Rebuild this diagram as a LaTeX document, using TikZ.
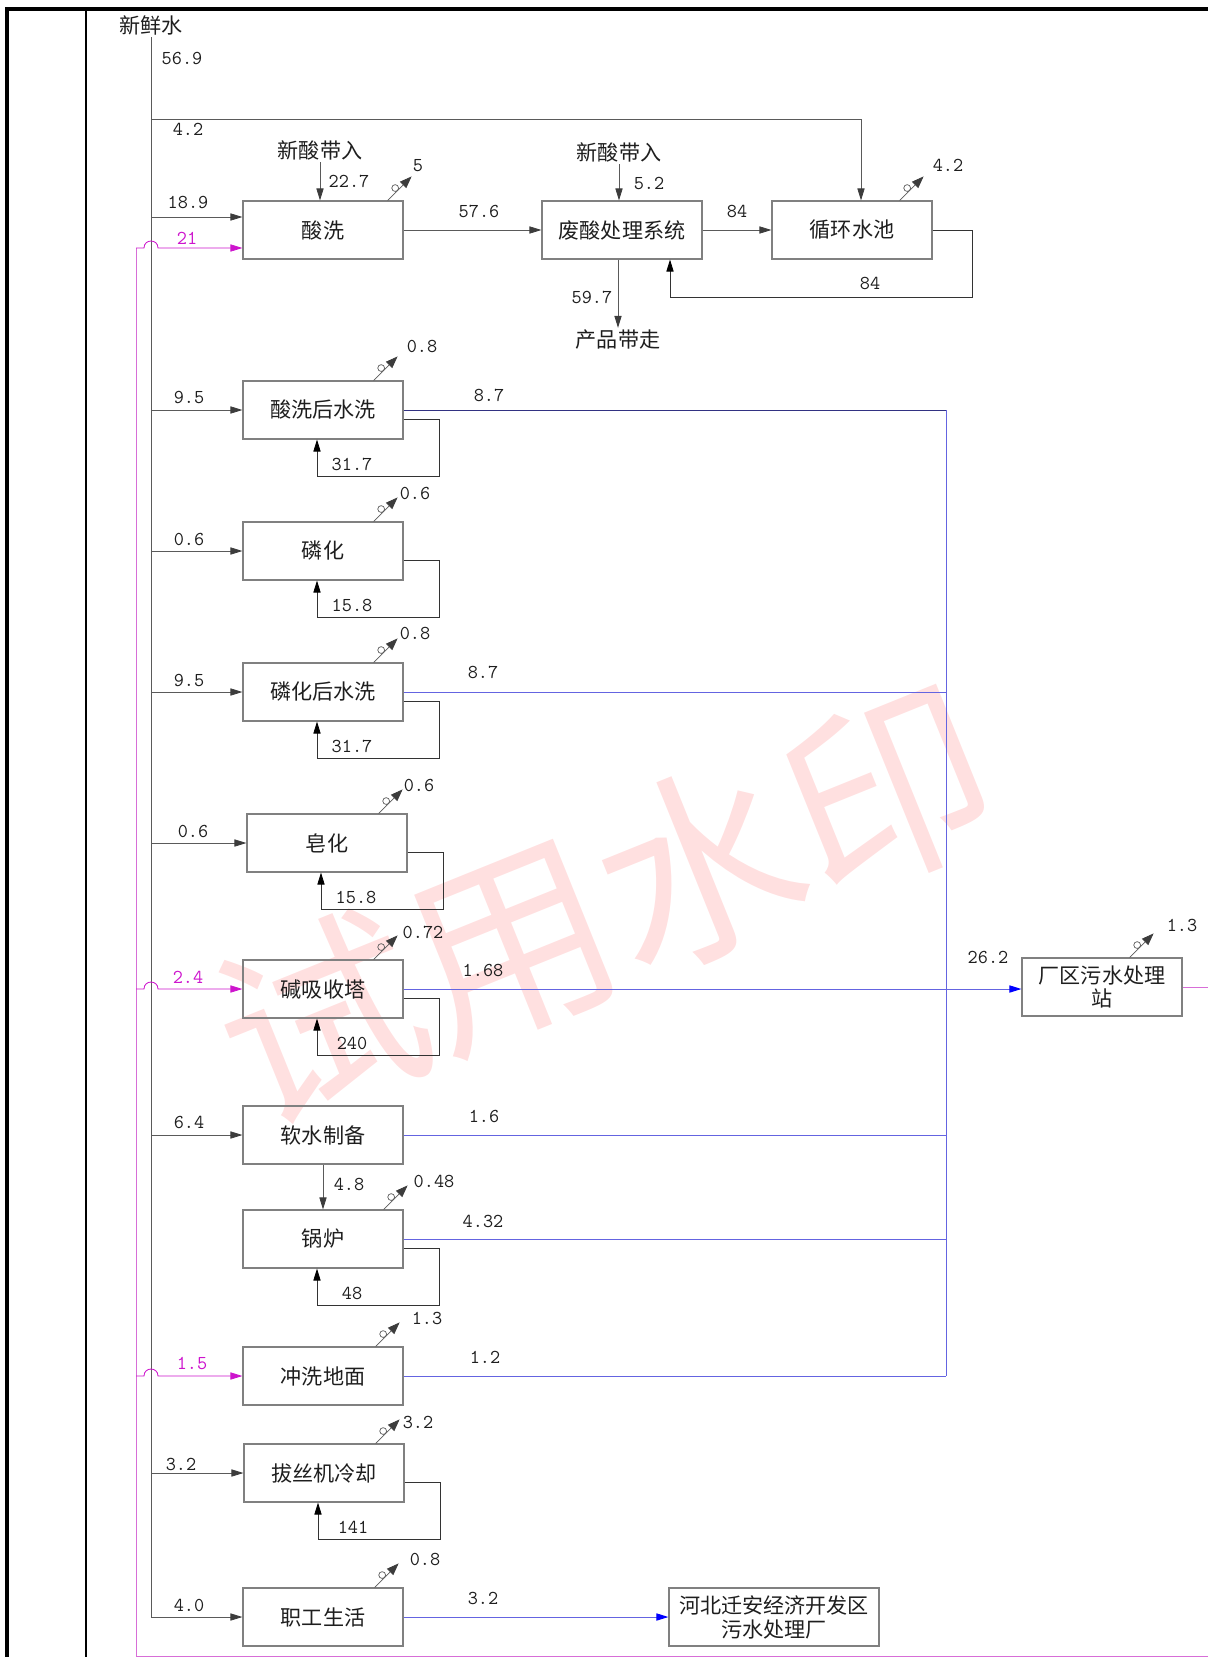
\documentclass[tikz,border=0pt]{standalone}
\usepackage{fontspec}
\newfontfamily\cjk{Noto Sans CJK SC}
\usepackage{tikz}
\usetikzlibrary{arrows.meta, positioning}
\definecolor{boxgray}{RGB}{128,128,128}
\definecolor{lngray}{RGB}{90,90,90}
\definecolor{tipgray}{RGB}{60,60,60}
\definecolor{txtblack}{RGB}{30,30,30}
\definecolor{wblue}{RGB}{100,100,225}
\definecolor{wnavy}{RGB}{50,50,130}
\definecolor{wmag}{RGB}{205,20,205}
\definecolor{wmagl}{RGB}{215,110,215}
\tikzset{
	blk/.style={shape=rectangle, draw=boxgray, line width=0.8pt, minimum width=4cm, minimum height=1.45cm, inner sep=1pt, align=center, font=\cjk\fontsize{15}{17}\selectfont, text=txtblack},
	lbl/.style={font=\cjk\fontsize{15}{17}\selectfont, text=txtblack, inner sep=1.5pt},
	num/.style={font=\ttfamily\fontsize{14}{16}\selectfont, text=txtblack, inner sep=0pt},
	mnum/.style={num, text=wmag},
	flw/.style={draw=lngray, line width=0.6pt, -{Triangle[length=0.3cm, width=0.18cm, color=tipgray]}},
	lp/.style={draw=black!80, line width=0.6pt, -{Triangle[length=0.3cm, width=0.18cm, color=black]}},
	evln/.style={draw=lngray, line width=0.5pt, -{Triangle[length=0.3cm, width=0.22cm, color=tipgray]}},
	bln/.style={draw=wblue, line width=0.7pt},
	bnav/.style={draw=wnavy, line width=0.7pt},
	barr/.style={bln, -{Triangle[length=0.3cm, width=0.18cm, color=blue]}},
	mln/.style={draw=wmagl, line width=0.7pt},
	marr/.style={draw=wmag, line width=0.6pt, -{Triangle[length=0.3cm, width=0.18cm, color=wmag]}},
	wmark/.style={rotate=22, text=red, opacity=0.12, font=\cjk\fontsize{145}{145}\selectfont, inner sep=0pt},
	evap/.pic={
		\draw[evln] (0,0) -- (24,-24);
		\draw[lngray, line width=0.5pt] (7.6,-12.4) circle[radius=0.085cm];
	}
}

\begin{document}
\begin{tikzpicture}[x=0.025cm, y=-0.025cm]
	% Frame, nodes and flows:
	\useasboundingbox (0,0) rectangle (1208,1657);
	\node[wmark] (N20) at (605,905) {试用水印};
	\draw[line width=2.2pt] (7,1670) -- (7,9) -- (1220,9);
	\draw[line width=0.9pt] (86,9) -- (86,1670);
	\node[lbl] (N1) at (151,25) {新鲜水};
	\coordinate (T1) at (151,44);
	\node[num] at (182,58) {56.9};
	\node[blk] (N2) at (323,230) {酸洗};
	\node[lbl] (N3) at (320,150) {新酸带入};
	\node[blk] (N4) at (622,230) {废酸处理系统};
	\node[lbl] (N5) at (619,152) {新酸带入};
	\node[blk] (N6) at (852,230) {循环水池};
	\node[lbl] (N7) at (618,340) {产品带走};
	\node[blk] (N8) at (323,410) {酸洗后水洗};
	\node[blk] (N9) at (323,551) {磷化};
	\node[blk] (N10) at (323,692) {磷化后水洗};
	\node[blk] (N11) at (327,843) {皂化};
	\node[blk] (N12) at (323,989) {碱吸收塔};
	\node[blk] (N13) at (323,1135) {软水制备};
	\node[blk] (N14) at (323,1239) {锅炉};
	\node[blk] (N15) at (323,1376) {冲洗地面};
	\node[blk] (N16) at (324,1473) {拔丝机冷却};
	\node[blk] (N17) at (323,1617) {职工生活};
	\node[blk] (N18) at (1102,987) {厂区污水处理\\站};
	\node[blk, minimum width=5.25cm] (N19) at (774,1617) {河北迁安经济开发区\\污水处理厂};
	\coordinate (C1) at (946,407);
	\coordinate (C3) at (861,119);
	\coordinate (C4) at (972,297);
	\coordinate (M1) at (136,248);
	\coordinate (M2) at (1230,1656);
	\draw[lngray, line width=0.6pt] (N1.south) -- (T1);
	\draw[flw] (T1) |- (N17.west);
	\draw[flw] (T1 |- C3) -- (C3) -- (C3 |- N6.north);
	\node[num] at (188,129) {4.2};
	\draw[flw] (T1 |- 0,217) -- (N2.west |- 0,217);
	\node[num] at (188,202) {18.9};
	\draw[flw] (N3.south) -- (N3.south |- N2.north);
	\node[num] at (349,181) {22.7};
	\draw[flw] (N2.east) -- (N4.west);
	\node[num] at (479,211) {57.6};
	\draw[flw] (N5.south) -- (N5.south |- N4.north);
	\node[num] at (649,183) {5.2};
	\draw[flw] (N4.east) -- (N6.west);
	\node[num] at (737,211) {84};
	\draw[lp] (N6.east) -| (C4) -| ([xshift=1.2cm]N4.south);
	\node[num] at (870,283) {84};
	\draw[flw] (N4.south -| N7.north) -- (N7.north);
	\node[num] at (592,297) {59.7};
	\draw[flw] (T1 |- N8.west) -- (N8.west);
	\node[num] at (189,397) {9.5};
	\draw[flw] (T1 |- N9.west) -- (N9.west);
	\node[num] at (189,539) {0.6};
	\draw[flw] (T1 |- N10.west) -- (N10.west);
	\node[num] at (189,680) {9.5};
	\draw[flw] (T1 |- N11.west) -- (N11.west);
	\node[num] at (193,831) {0.6};
	\draw[flw] (T1 |- N13.west) -- (N13.west);
	\node[num] at (189,1122) {6.4};
	\draw[flw] (N13.south) -- (N14.north);
	\node[num] at (349,1184) {4.8};
	\draw[flw] (T1 |- N16.west) -- (N16.west);
	\node[num] at (181,1464) {3.2};
	\node[num] at (189,1605) {4.0};
	\draw[mln] (N18.east) -| (M2) -| (M1);
	\draw[marr] (M1) -- (144,248) .. controls (144,238.7) and (158,238.7) .. (158,248) -- (N2.west |- M1);
	\node[mnum] at (187,238) {21};
	\draw[marr] (M1 |- N12.west) -- (144,989) .. controls (144,979.7) and (158,979.7) .. (158,989) -- (N12.west);
	\node[mnum] at (188,977) {2.4};
	\draw[marr] (M1 |- N15.west) -- (144,1376) .. controls (144,1366.7) and (158,1366.7) .. (158,1376) -- (N15.west);
	\node[mnum] at (192,1363) {1.5};
	\draw[bnav] (N8.east) -- (N8.east -| C1);
	\node[num] at (489,395) {8.7};
	\draw[bln] (N10.east) -- (N10.east -| C1);
	\node[num] at (483,672) {8.7};
	\draw[barr] (N12.east) -- (N12.east -| N18.west);
	\node[num] at (483,970) {1.68};
	\node[num] at (988,957) {26.2};
	\draw[bln] (N13.east) -- (N13.east -| C1);
	\node[num] at (484,1116) {1.6};
	\draw[bln] (N14.east) -- (N14.east -| C1);
	\node[num] at (483,1221) {4.32};
	\draw[bln] (N15.east) -- (N15.east -| C1);
	\node[num] at (485,1357) {1.2};
	\draw[bln] (N8.east -| C1) -- (N15.east -| C1);
	\draw[barr] (N17.east) -- (N19.west);
	\node[num] at (483,1598) {3.2};
	\draw[lp] ([yshift=-0.225cm]N8.east) -| ([xshift=0.9cm,yshift=-0.925cm]N8.south east) -| ([xshift=-0.15cm]N8.south);
	\node[num] at ([xshift=0.725cm,yshift=-0.625cm]N8.south) {31.7};
	\draw[lp] ([yshift=-0.225cm]N9.east) -| ([xshift=0.9cm,yshift=-0.925cm]N9.south east) -| ([xshift=-0.15cm]N9.south);
	\node[num] at ([xshift=0.725cm,yshift=-0.625cm]N9.south) {15.8};
	\draw[lp] ([yshift=-0.225cm]N10.east) -| ([xshift=0.9cm,yshift=-0.925cm]N10.south east) -| ([xshift=-0.15cm]N10.south);
	\node[num] at ([xshift=0.725cm,yshift=-0.625cm]N10.south) {31.7};
	\draw[lp] ([yshift=-0.225cm]N11.east) -| ([xshift=0.9cm,yshift=-0.925cm]N11.south east) -| ([xshift=-0.15cm]N11.south);
	\node[num] at ([xshift=0.725cm,yshift=-0.625cm]N11.south) {15.8};
	\draw[lp] ([yshift=-0.225cm]N12.east) -| ([xshift=0.9cm,yshift=-0.925cm]N12.south east) -| ([xshift=-0.15cm]N12.south);
	\node[num] at ([xshift=0.725cm,yshift=-0.625cm]N12.south) {240};
	\draw[lp] ([yshift=-0.225cm]N14.east) -| ([xshift=0.9cm,yshift=-0.925cm]N14.south east) -| ([xshift=-0.15cm]N14.south);
	\node[num] at ([xshift=0.725cm,yshift=-0.625cm]N14.south) {48};
	\draw[lp] ([yshift=-0.225cm]N16.east) -| ([xshift=0.9cm,yshift=-0.925cm]N16.south east) -| ([xshift=-0.15cm]N16.south);
	\node[num] at ([xshift=0.725cm,yshift=-0.625cm]N16.south) {141};
	\pic at ([xshift=-0.4cm]N2.north east) {evap};
	\node[num] at (418,166) {5};
	\pic at ([xshift=-0.825cm]N6.north east) {evap};
	\node[num] at (948,165) {4.2};
	\pic at ([xshift=-0.75cm]N8.north east) {evap};
	\node[num] at (422,346) {0.8};
	\pic at ([xshift=-0.75cm]N9.north east) {evap};
	\node[num] at (415,493) {0.6};
	\pic at ([xshift=-0.75cm]N10.north east) {evap};
	\node[num] at (415,633) {0.8};
	\pic at ([xshift=-0.725cm]N11.north east) {evap};
	\node[num] at (419,785) {0.6};
	\pic at ([xshift=-0.75cm]N12.north east) {evap};
	\node[num] at (423,932) {0.72};
	\pic at ([xshift=-0.5cm]N14.north east) {evap};
	\node[num] at (434,1181) {0.48};
	\pic at ([xshift=-0.7cm]N15.north east) {evap};
	\node[num] at (427,1318) {1.3};
	\pic at ([xshift=-0.725cm]N16.north east) {evap};
	\node[num] at (418,1422) {3.2};
	\pic at ([xshift=-0.725cm]N17.north east) {evap};
	\node[num] at (425,1559) {0.8};
	\pic at ([xshift=-1.325cm]N18.north east) {evap};
	\node[num] at (1182,925) {1.3};
\end{tikzpicture}
\end{document}
